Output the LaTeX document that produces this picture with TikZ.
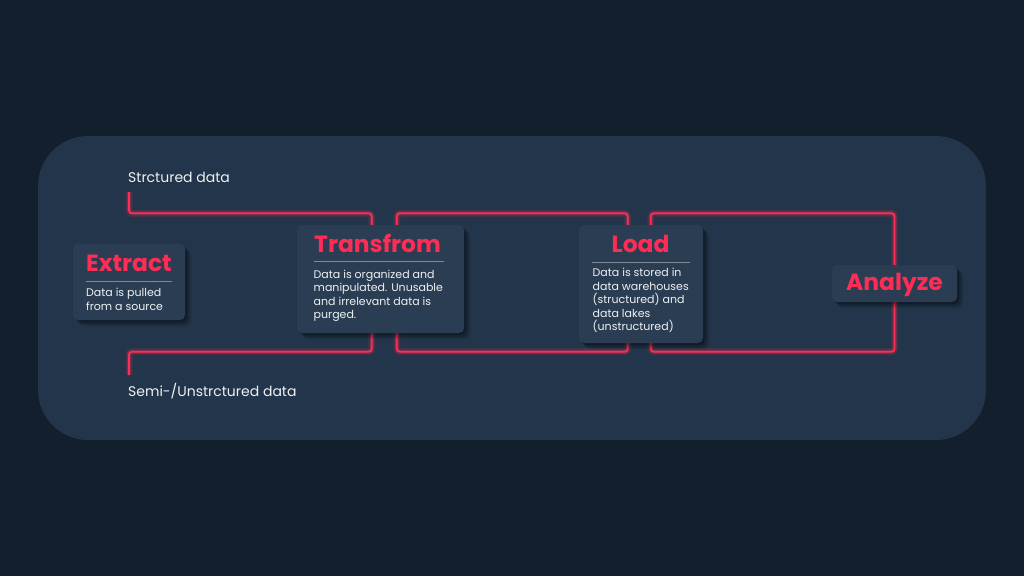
\documentclass[tikz,border=0pt]{standalone}
\usepackage{fontspec}
\setmainfont{Poppins}
\usetikzlibrary{shadows,calc}
\definecolor{bgc}{HTML}{131F2C}
\definecolor{panelc}{HTML}{22354A}
\definecolor{boxc}{HTML}{2A3D52}
\definecolor{redc}{HTML}{FF2D55}
\definecolor{txtc}{HTML}{EEF1F4}
\definecolor{sepc}{HTML}{7E8996}
\pgfdeclarelayer{panel}
\pgfdeclarelayer{lines}
\pgfsetlayers{panel,lines,main}
\tikzset{
  stagebox/.style={rectangle, rounded corners=5pt, fill=boxc, inner sep=0pt,
    general shadow={shadow xshift=6pt, shadow yshift=-6pt, fill=black, opacity=.12},
    general shadow={shadow xshift=4pt, shadow yshift=-4pt, fill=black, opacity=.18},
    general shadow={shadow xshift=2pt, shadow yshift=-2pt, fill=black, opacity=.22}},
  ttl/.style={font=\fontsize{23.4}{26}\selectfont\bfseries, text=redc, inner sep=0pt},
  bodytxt/.style={font=\fontsize{11}{13.6}\selectfont, text=txtc, align=left, inner sep=0pt},
  lbl/.style={font=\fontsize{14}{16}\selectfont, text=txtc, inner sep=0pt},
  sepline/.style={draw=sepc, line width=0.8pt},
  redline/.style={draw=redc, line width=1.8pt, rounded corners=3pt,
    preaction={draw=redc, opacity=.15, line width=7pt},
    preaction={draw=redc, opacity=.25, line width=4pt}},
}
\begin{document}
\begin{tikzpicture}[x=1pt,y=-1pt]
\begin{pgfonlayer}{panel}
  \fill[bgc] (0,0) rectangle (1024,576);
  \fill[panelc, rounded corners=50pt] (38,136) rectangle (986,440);
\end{pgfonlayer}
\useasboundingbox (0,0) rectangle (1024,576);

% boxes
\node[stagebox, minimum width=112pt, minimum height=76pt] (E) at (129,282) {};
\node[stagebox, minimum width=167pt, minimum height=108pt] (T) at (380.5,279) {};
\node[stagebox, minimum width=124pt, minimum height=118pt] (L) at (641,284) {};
\node[stagebox, minimum width=125pt, minimum height=37pt] (A) at (894.5,283.5) {};

% Extract
\node[ttl, anchor=base west] (Et) at (86,271) {Extract};
\draw[sepline, line width=0.6pt] (86,281) -- (172,281);
\node[bodytxt, anchor=north west] (Eb) at (86,288.4) {Data is pulled\\from a source};

% Transform
\node[ttl, anchor=base west] (Tt) at (314,252) {Transfrom};
\draw[sepline, line width=1pt] (313.5,261.5) -- (443.5,261.5);
\node[bodytxt, anchor=north west] (Tb) at (313.5,269.6) {Data is organized and\\manipulated. Unusable\\and irrelevant data is\\purged.};

% Load
\node[ttl, anchor=base] (Lt) at (640.5,252) {Load};
\draw[sepline, line width=0.5pt] (592,262) -- (690,262);
\node[bodytxt, anchor=north west] (Lb) at (592.5,267.9) {Data is stored in\\data warehouses\\(structured) and\\data lakes\\(unstructured)};

% Analyze
\node[ttl, anchor=base] (At) at (894.5,290) {Analyze};

% labels
\node[lbl, anchor=base west] (sd) at (128,182.5) {Strctured data};
\node[lbl, anchor=base west] (ud) at (128,396) {Semi-/Unstrctured data};

\coordinate (s1) at (129,192);
\coordinate (s2) at (129,375);

\begin{pgfonlayer}{lines}
  \draw[redline] (s1) |- ($(T.north west)+(75,-11.5)$) -- ($(T.north west)+(75,0)$);
  \draw[redline] ($(T.north west)+(100,0)$) |- ($(L.north west)+(49,-11.5)$) -- ($(L.north west)+(49,0)$);
  \draw[redline] ($(L.north west)+(72,0)$) |- ($(A.north)+(0,-51.5)$) -- (A.north);
  \draw[redline] (s2) |- ($(T.south west)+(75,18.5)$) -- ($(T.south west)+(75,0)$);
  \draw[redline] ($(T.south west)+(100,0)$) |- ($(L.south west)+(49,8.5)$) -- ($(L.south west)+(49,0)$);
  \draw[redline] ($(L.south west)+(72,0)$) |- ($(A.south)+(0,49.5)$) -- (A.south);
\end{pgfonlayer}
\end{tikzpicture}
\end{document}
